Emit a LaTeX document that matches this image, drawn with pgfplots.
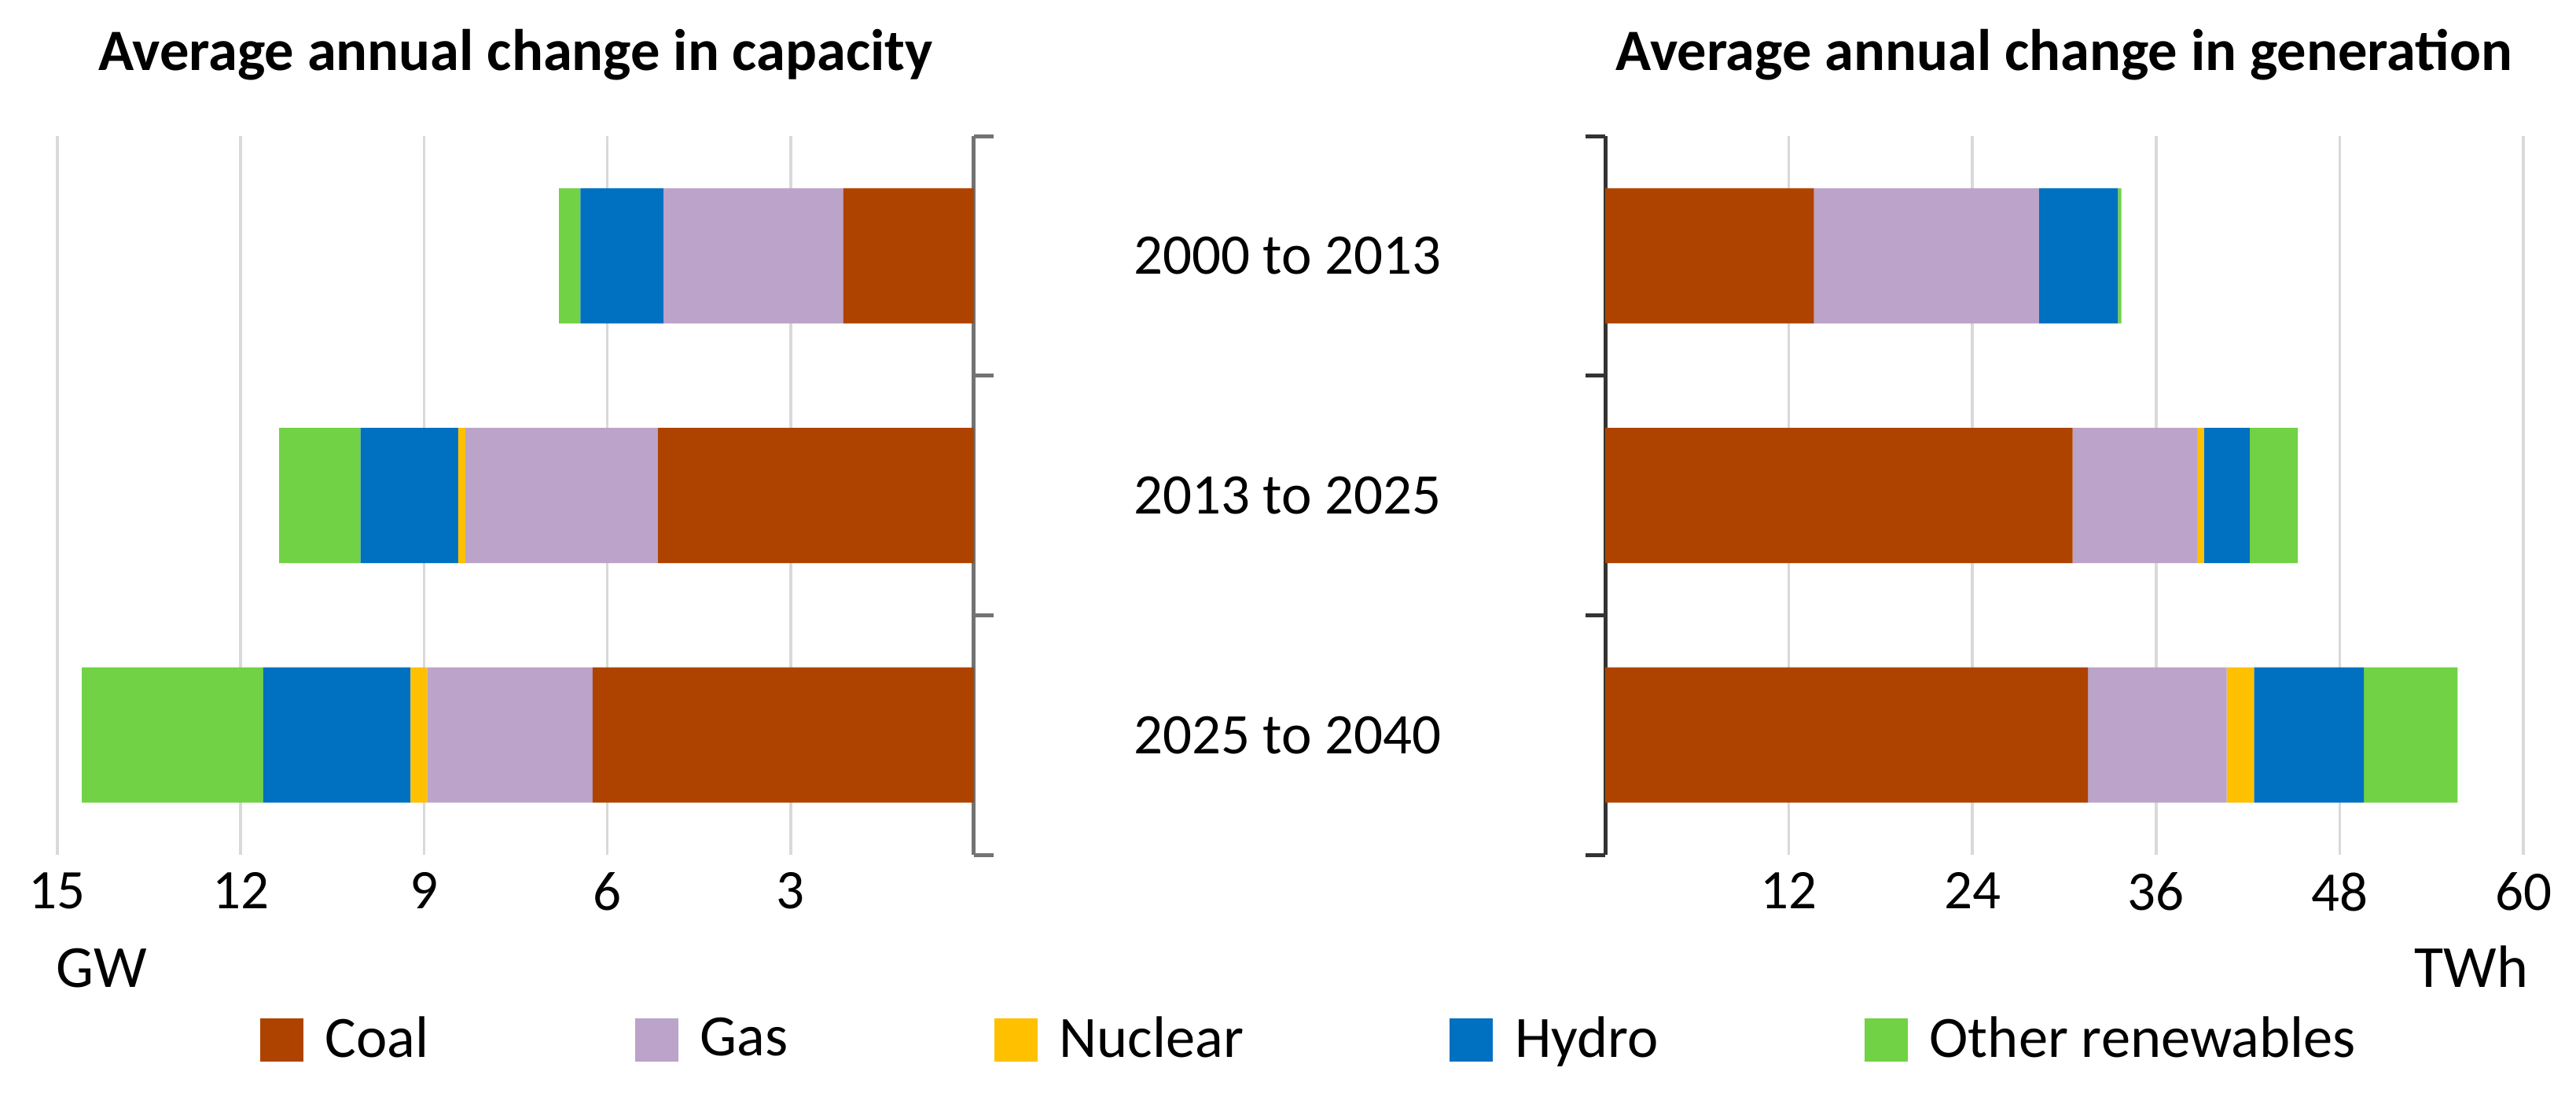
\documentclass[border=0pt]{standalone}
\usepackage{fontspec}
\setmainfont{Carlito}
\usepackage{graphicx}
\usepackage{pgfplots}
\usepackage{pgfplotstable}
\pgfplotsset{compat=1.18}
\definecolor{coal}{HTML}{AE4300}
\definecolor{gas}{HTML}{BBA3C9}
\definecolor{nuclear}{HTML}{FFC000}
\definecolor{hydro}{HTML}{0070C0}
\definecolor{other}{HTML}{70D244}
\definecolor{gridc}{HTML}{D9D9D9}

% capacity, GW per year
\pgfplotstableread{
cat coal gas nuclear hydro other
0 2.14 2.94 0    1.36 0.35
1 5.17 3.15 0.12 1.60 1.33
2 6.24 2.71 0.27 2.41 2.97
}\capacity
% generation, TWh per year
\pgfplotstableread{
cat coal  gas   nuclear hydro other
0 13.65 14.70 0    5.16 0.22
1 30.55  8.14 0.44 2.98 3.15
2 31.55  9.06 1.79 7.18 6.13
}\generation

\pgfplotsset{
 every axis title/.style={at={(0.5,1)}, anchor=base, yshift=16.8pt, font=\bfseries\fontsize{14.9}{17}\selectfont},
 common/.style={
  scale only axis, height=182.8pt,
  xbar stacked, bar width=34.4pt,
  ymin=-0.5, ymax=2.5, y dir=reverse,
  enlargelimits=false,
  ytick={0,1,2},
  minor ytick={-0.5,0.5,1.5,2.5},
  tick align=outside,
  minor tick length=5pt, major tick length=0pt,
  axis x line*=bottom, x axis line style={draw=none},
  xmajorgrids, grid style={gridc, line width=0.7pt},
  major x tick style={draw=none}, major y tick style={draw=none},
  tick label style={font=\fontsize{14.2}{16}\selectfont},
  xticklabel style={yshift=-1pt},
  /pgf/number format/assume math mode=true,
 },
 sq/.style={legend image code/.code={\fill[##1] (0pt,-5.5pt) rectangle (11pt,5.5pt);}},
}

\begin{document}
\begin{tikzpicture}
\path (0,0) rectangle (655.4pt,278.8pt);

\begin{axis}[common,
  at={(14.6pt,61.4pt)}, anchor=south west, width=233.2pt,
  xmin=0, xmax=15, x dir=reverse, xtick={3,6,9,12,15},
  axis y line*=right,
  y axis line style={black!55, line width=1pt},
  minor y tick style={black!55, line width=1pt},
  yticklabels={2000 to 2013, 2013 to 2025, 2025 to 2040},
  yticklabel style={anchor=center, xshift=79.8pt, font=\fontsize{14.6}{17}\selectfont},
  title={Average annual change in capacity},
]
\addplot[fill=coal, draw=none] table[x=coal, y=cat] {\capacity};
\addplot[fill=gas, draw=none] table[x=gas, y=cat] {\capacity};
\addplot[fill=nuclear, draw=none] table[x=nuclear, y=cat] {\capacity};
\addplot[fill=hydro, draw=none] table[x=hydro, y=cat] {\capacity};
\addplot[fill=other, draw=none] table[x=other, y=cat] {\capacity};
\end{axis}

\begin{axis}[common,
  at={(408.4pt,61.4pt)}, anchor=south west, width=233.6pt,
  xmin=0, xmax=60, xtick={12,24,36,48,60},
  axis y line*=left,
  y axis line style={black!80, line width=1pt},
  minor y tick style={black!80, line width=1pt},
  yticklabels={},
  title={Average annual change in generation},
  legend columns=5,
  legend style={draw=none, fill=none, inner sep=0pt, outer sep=0pt,
    at={(axis description cs:-1.4649,-0.2571)}, anchor=west,
    font=\fontsize{14.9}{17}\selectfont,
    /tikz/every odd column/.append style={column sep=3.6pt},
    /tikz/every even column/.append style={column sep=50.4pt}},
]
\addplot[fill=coal, draw=none, sq] table[x=coal, y=cat] {\generation};
\addplot[fill=gas, draw=none, sq] table[x=gas, y=cat] {\generation};
\addplot[fill=nuclear, draw=none, sq] table[x=nuclear, y=cat] {\generation};
\addplot[fill=hydro, draw=none, sq] table[x=hydro, y=cat] {\generation};
\addplot[fill=other, draw=none, sq] table[x=other, y=cat] {\generation};
\legend{Coal, Gas, Nuclear, Hydro, Other renewables}
\end{axis}

\node[anchor=base west, inner sep=0pt, font=\fontsize{15.2}{17}\selectfont] at (14.2pt,27.8pt) {GW};
\node[anchor=base east, inner sep=0pt, font=\fontsize{15.2}{17}\selectfont] at (643.4pt,27.8pt) {TWh};
\end{tikzpicture}
\end{document}
